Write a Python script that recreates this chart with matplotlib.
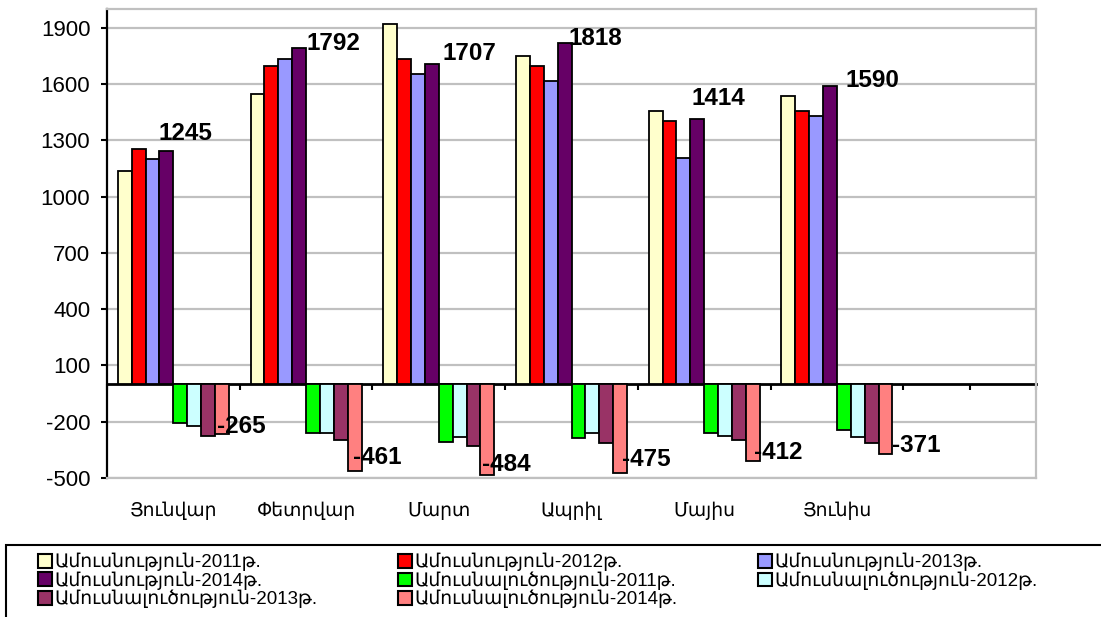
import numpy as np
import matplotlib
matplotlib.use('Agg')
import matplotlib.pyplot as plt
from matplotlib.patches import Patch, Rectangle

plt.rcParams['font.family'] = ['Liberation Sans', 'DejaVu Sans']
plt.rcParams['axes.unicode_minus'] = False

# === DATA ===
months = ['Յունվար', 'Փետրվար', 'Մարտ', 'Ապրիլ', 'Մայիս', 'Յունիս']
n_slots = 7  # the last category slot is empty in the original

marriage_2011 = [1136, 1547, 1920, 1747, 1457, 1536]
marriage_2012 = [1252, 1695, 1734, 1694, 1402, 1457]
marriage_2013 = [1201, 1736, 1653, 1616, 1205, 1427]
marriage_2014 = [1245, 1792, 1707, 1818, 1414, 1590]
divorce_2011 = [-207, -258, -309, -288, -261, -244]
divorce_2012 = [-221, -258, -284, -258, -274, -284]
divorce_2013 = [-275, -300, -328, -311, -298, -314]
divorce_2014 = [-265, -461, -484, -475, -412, -371]

series = [marriage_2011, marriage_2012, marriage_2013, marriage_2014,
          divorce_2011, divorce_2012, divorce_2013, divorce_2014]
labels = ['Ամուսնություն-2011թ.', 'Ամուսնություն-2012թ.', 'Ամուսնություն-2013թ.',
          'Ամուսնություն-2014թ.', 'Ամուսնալուծություն-2011թ.', 'Ամուսնալուծություն-2012թ.',
          'Ամուսնալուծություն-2013թ.', 'Ամուսնալուծություն-2014թ.']
colors = ['#FFFFCC', '#FF0000', '#9999FF', '#660066',
          '#00FF00', '#CCFFFF', '#993366', '#FF8080']

yticks = np.arange(-500, 2000, 300)
ymin, ymax = -500, 2000

# label offsets (pixels) - labels were hand placed in the original
pos_dx = [-15, 0, 4, -3, -13, 9]
pos_dy = [17, 5, 10, 5, 20, 5]
neg_dx = [-12, -9, -12, -5, -6, 0]
neg_dy = [7, 13, 10, 14, 9, 8]

# === PLOT ===
W, H = 1101, 617
fig = plt.figure(figsize=(W / 100, H / 100), dpi=100)
ax = fig.add_axes([107 / W, 1 - 478 / H, (1036 - 107) / W, (478 - 9) / H])

x = np.arange(len(months))
w = 0.1046
for i, (vals, col) in enumerate(zip(series, colors)):
    ax.bar(x + (i - 3.5) * w, vals, w, color=col, edgecolor='black',
           linewidth=1.3, zorder=3)

ax.set_xlim(-0.5, n_slots - 0.5)
ax.set_ylim(ymin, ymax)
ax.set_yticks(yticks)
ax.set_xticks(x)
ax.set_xticklabels(months, fontsize=13.5)
ax.tick_params(axis='x', length=0, pad=17)
ax.tick_params(axis='y', length=4, width=1.5, pad=8, labelsize=16, direction='out')

ax.yaxis.grid(True, color='#C0C0C0', linewidth=1.6)
ax.set_axisbelow(True)
for s in ['top', 'right', 'bottom']:
    ax.spines[s].set_color('#C0C0C0')
    ax.spines[s].set_linewidth(1.6)
ax.spines['left'].set_color('black')
ax.spines['left'].set_linewidth(1.6)

# zero axis with category boundary ticks
sec = ax.secondary_xaxis((0 - ymin) / (ymax - ymin))
sec.set_xticks(list(np.arange(-0.5, n_slots, 1.0)) + [n_slots - 1])
sec.tick_params(axis='x', length=4, width=1.5, labelbottom=False, direction='out')
sec.spines['bottom'].set_color('black')
sec.spines['bottom'].set_linewidth(2)

# data labels
for j in range(len(months)):
    ax.annotate(f'{marriage_2014[j]}', xy=(x[j], marriage_2014[j]),
                xytext=(pos_dx[j], pos_dy[j]), textcoords='offset pixels',
                ha='left', va='center', fontsize=17.5, fontweight='bold', zorder=5)
    ax.annotate(f'{divorce_2014[j]}', xy=(x[j] + 4 * w, divorce_2014[j]),
                xytext=(neg_dx[j], neg_dy[j]), textcoords='offset pixels',
                ha='left', va='center', fontsize=17.5, fontweight='bold', zorder=5)

# legend (row-wise order as in the original, 3 columns)
handles = [Patch(facecolor=c, edgecolor='black', linewidth=1.5) for c in colors]
col_x = [38, 398, 758]
for k, idxs in enumerate([[0, 3, 6], [1, 4, 7], [2, 5]]):
    fig.legend([handles[i] for i in idxs], [labels[i] for i in idxs],
               loc='upper left', bbox_to_anchor=(col_x[k] / W, 1 - 553 / H),
               frameon=False, fontsize=13.5, handlelength=0.75, handleheight=0.75,
               handletextpad=0.15, labelspacing=0.0, borderpad=0, borderaxespad=0)

fig.patches.append(Rectangle((6 / W, -0.1), 1.2, (1 - 545 / H) + 0.1,
                             transform=fig.transFigure, fill=False,
                             edgecolor='black', linewidth=1.5))

fig.savefig('out.png', dpi=100)
